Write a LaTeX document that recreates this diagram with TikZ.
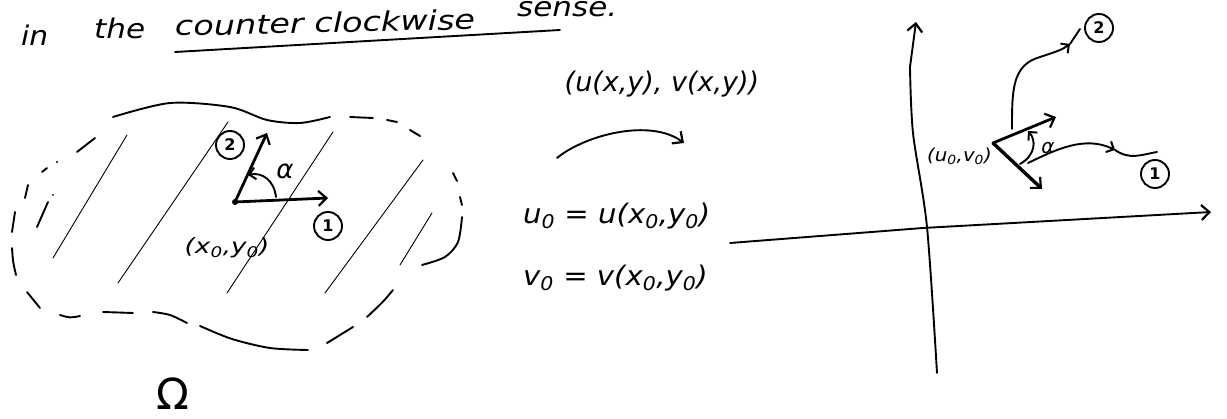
\documentclass[tikz,border=0pt]{standalone}
\usepackage{fontspec}
\setmainfont{DejaVu Sans}
\usetikzlibrary{arrows.meta}
\begin{document}
\begin{tikzpicture}[x=1pt,y=-1pt,
  pen/.style={line width=1.9pt, line cap=round, line join=round},
  bold/.style={line width=2.8pt, line cap=round, line join=round},
  hatch/.style={line width=0.9pt, line cap=round},
  tip/.style={-{Straight Barb[length=8pt,width=15pt,line width=2.2pt]}},
  smalltip/.style={-{Straight Barb[length=6pt,width=12pt,line width=2pt]}},
  num/.style={circle, draw, line width=1.9pt, inner sep=0pt, minimum size=28pt, font=\bfseries\fontsize{16}{16}\selectfont},
  hand/.style={inner sep=0pt, font=\itshape\fontsize{27}{30}\selectfont},
  lab/.style={inner sep=0pt, font=\itshape\fontsize{21}{22}\selectfont}
]
\useasboundingbox (0,0) rectangle (1227,419);

% ---------- heading ----------
\node[hand, anchor=base west] (in) at (21,46) {\scalebox{1.1}[1]{in}};
\node[hand, anchor=base west] (the) at (94,39) {\scalebox{1.15}[1]{the}};
\node[hand, anchor=base west, rotate=1.3] (ccw) at (175,36) {\scalebox{1.24}[1]{counter clockwise}};
\node[hand, anchor=base west] (sense) at (517,17) {\scalebox{1.15}[1]{sense.}};
\coordinate (ul1) at (175,52);
\coordinate (ul2) at (560,30);
\draw[pen] (ul1) -- (ul2);

% ---------- domain Omega ----------
\draw[pen] plot[smooth] coordinates {(113,117) (170,103) (230,107) (267,120) (300,123) (330,117)};
\draw[pen] (350,117) -- (373,118);
\draw[pen] (387,120) -- (397,122);
\draw[pen] (410,130) -- (420,136);
\draw[pen] (453,173) -- (457,181);
\draw[pen] (460,197) -- (462,205);
\draw[pen] plot[smooth] coordinates {(462,217) (458,242) (445,257) (422,265)};
\draw[pen] (393,290) .. controls (383,302) .. (367,317);
\draw[pen] (353,327) -- (327,343);
\draw[pen] plot[smooth] coordinates {(308,350) (270,348) (232,339) (200,326)};
\draw[pen] plot[smooth] coordinates {(187,323) (170,315) (153,312)};
\draw[pen] (133,313) -- (103,312);
\draw[pen] (80,316) .. controls (70,318) .. (60,315);
\draw[pen] (40,308) -- (27,292);
\draw[pen] (16,275) .. controls (13,262) .. (12,248);
\draw[pen] (12,232) -- (15,212);
\draw[pen] (25,198) -- (28,185);
\draw[pen] (42,172) -- (47,168);
\draw[pen] (77,152) -- (95,138);
\draw[pen] (37,227) -- (48,202);
\fill (57,162) circle (1.2pt);
\fill (53,195) circle (1pt);

% hatching
\draw[hatch] (127,135) -- (53,258);
\draw[hatch] (228,122) -- (118,283);
\draw[hatch] (333,132) -- (227,293);
\draw[hatch] (423,160) -- (325,293);
\draw[hatch] (432,213) -- (400,265);

% point and vectors
\coordinate (p0) at (235,202);
\fill (p0) circle (3pt);
\coordinate (e1) at (328,198);
\coordinate (e2) at (267,133);
\draw[bold, tip] (p0) -- (e1);
\draw[bold, tip] (p0) -- (e2);
\node[num] (c2) at (230,145) {2};
\node[num] (c1) at (328,226) {1};
\coordinate (a1) at (276,197);
\coordinate (a2) at (248,175);
\draw[pen, smalltip] (a1) .. controls (274,180) and (262,172) .. (a2);
\node[inner sep=0pt, font=\itshape\fontsize{26}{26}\selectfont] (alpha1) at (285,171) {α};
\node[lab] (xy0) at (227,248) {\scalebox{1.25}[1]{(x\textsubscript{0},y\textsubscript{0})}};
\node[inner sep=0pt, anchor=base, text depth=0pt, font=\fontsize{43}{43}\selectfont] (Omega) at (173,410) {Ω};

% ---------- mapping ----------
\node[hand] (map) at (662,84) {(u(x,y), v(x,y))};
\coordinate (m1) at (557,158);
\coordinate (m2) at (684,143);
\draw[pen, tip] (m1) .. controls (585,135) and (650,118) .. (m2);
\node[hand, anchor=west] (u0) at (523,216) {\scalebox{1.08}[1]{u\textsubscript{0} = u(x\textsubscript{0},y\textsubscript{0})}};
\node[hand, anchor=west] (v0) at (523,278) {\scalebox{1.08}[1]{v\textsubscript{0} = v(x\textsubscript{0},y\textsubscript{0})}};

% ---------- image plane ----------
\coordinate (hx1) at (730,243);
\coordinate (hx2) at (1211,212);
\draw[pen, tip] (hx1) -- (923,228) -- (hx2);
\coordinate (vy1) at (937,373);
\coordinate (vy2) at (916,22);
\draw[pen, tip] plot[smooth] coordinates {(vy1) (927,227) (913,133) (910,67)} -- (vy2);

\coordinate (q0) at (993,143);
\node[inner sep=0pt, anchor=east, font=\itshape\fontsize{18}{18}\selectfont] (uv0) at (992,156) {\scalebox{1.1}[1]{(u\textsubscript{0},v\textsubscript{0})}};
\coordinate (t1) at (1056,117);
\coordinate (t2) at (1042,189);
\draw[bold, tip] (q0) -- (t1);
\draw[bold, line width=3.4pt, tip] (q0) -- (t2);

% image curves
\coordinate (k2s) at (1012,129);
\coordinate (k2t) at (1070,44);
\coordinate (k2e) at (1080,29);
\draw[pen, smalltip] (k2s) .. controls (1012,90) and (1012,65) .. (1040,57) .. controls (1055,52) and (1062,50) .. (k2t);
\draw[pen] (k2t) -- (k2e);
\node[num] (d2) at (1099,28) {2};

\coordinate (k1s) at (1028,163);
\coordinate (k1t) at (1115,150);
\coordinate (k1e) at (1157,152);
\draw[pen, smalltip] (k1s) .. controls (1055,150) and (1085,135) .. (k1t);
\draw[pen] (k1t) .. controls (1130,160) and (1140,155) .. (k1e);
\node[num] (d1) at (1155,174) {1};

\coordinate (b1) at (1020,164);
\coordinate (b2) at (1028,131);
\draw[pen, smalltip] (b1) .. controls (1036,155) and (1036,140) .. (b2);
\node[inner sep=0pt, font=\itshape\fontsize{20}{20}\selectfont] (alpha2) at (1048,148) {α};

\end{tikzpicture}
\end{document}
